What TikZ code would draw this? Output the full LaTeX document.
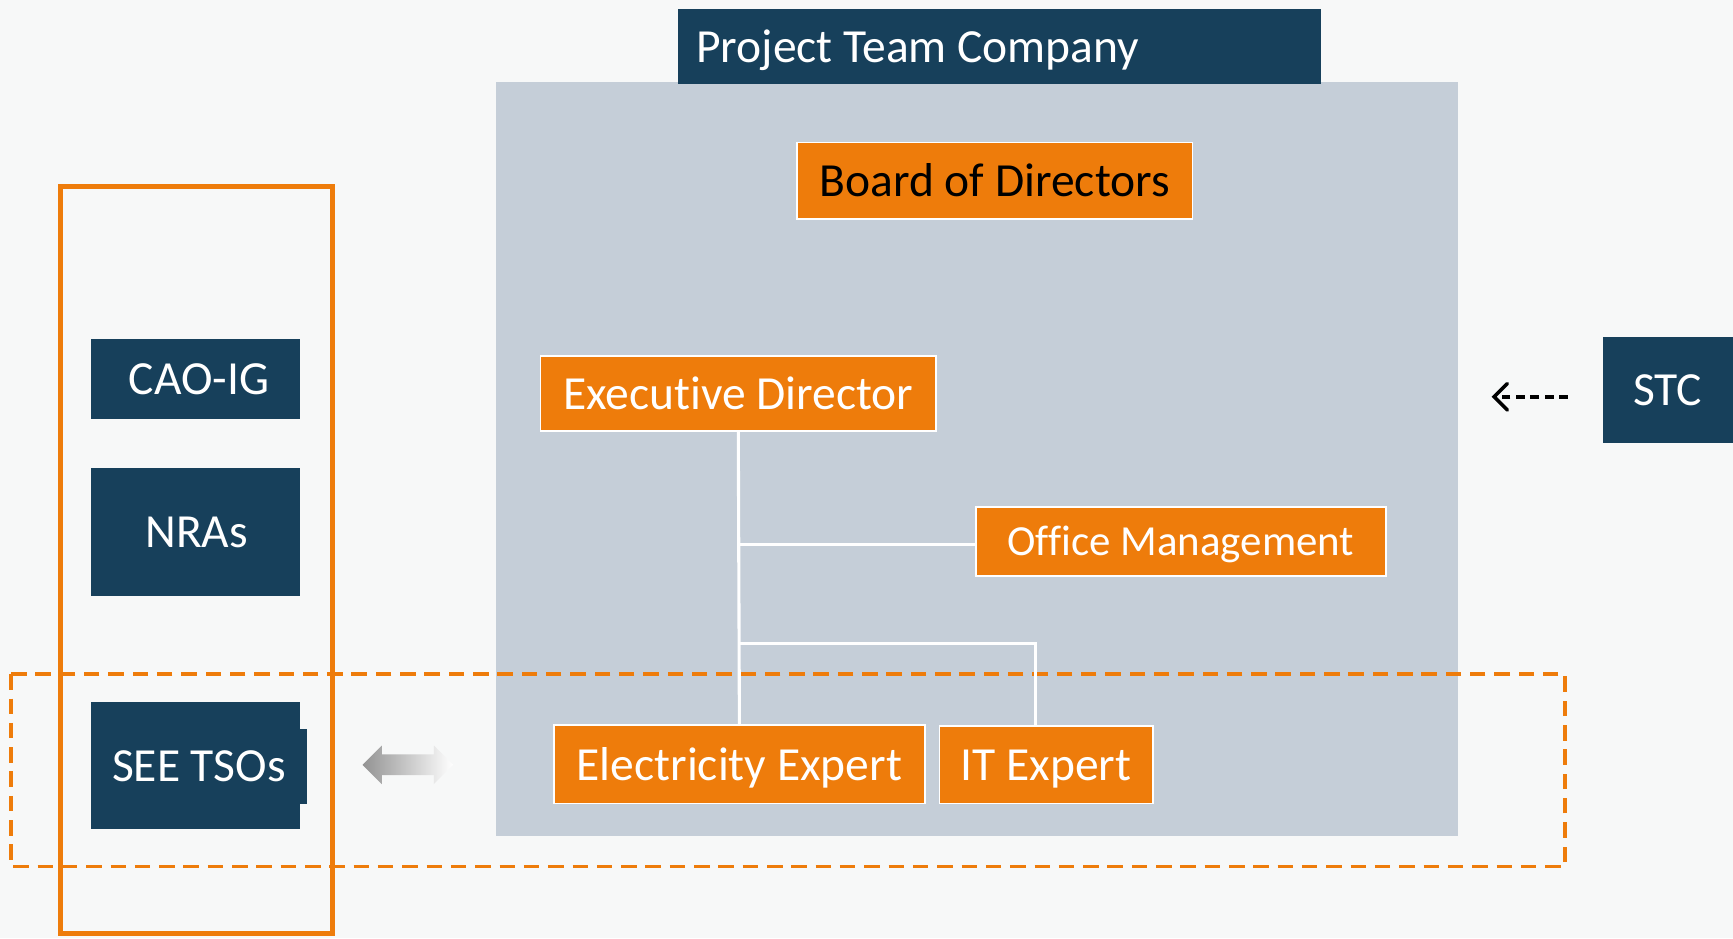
\documentclass[tikz,border=0pt]{standalone}
\usepackage{fontspec}
\setmainfont{Carlito}[Ligatures=NoCommon]
\usetikzlibrary{shapes.arrows,arrows.meta}
\definecolor{navy}{HTML}{17405B}
\definecolor{orng}{HTML}{EE7C0B}
\definecolor{panel}{HTML}{C5CED8}
\definecolor{bg}{HTML}{F7F8F8}
\begin{document}
\begin{tikzpicture}[x=0.5pt,y=-0.5pt,
  lbl/.style={font=\fontsize{21.5}{24}\selectfont, inner sep=0pt, text height=20.3pt, text depth=6pt},
  navybox/.style={lbl, fill=navy, text=white},
  orbox/.style={lbl, fill=orng, text=white, draw=white, line width=0.75pt},
  conn/.style={draw=white, line width=1.4pt},
  dashbox/.style={draw=orng, line width=1.6pt, dash pattern=on 7pt off 4pt},
  solidbox/.style={draw=orng, line width=2.2pt},
  stcarrow/.style={draw=black, line width=1.6pt, dash pattern=on 4pt off 2.5pt, -{Straight Barb[length=6pt,width=12pt,line cap=round]}},
]
\fill[bg] (0,0) rectangle (1568,849);
\useasboundingbox (0,0) rectangle (1568,849);
% panel
\fill[panel] (449,74) rectangle (1319,756);
% dashed group
\draw[dashbox] (10,610) rectangle (1416,784);
% left group
\draw[solidbox] (55,169) rectangle (301,845);

% header
\node[navybox, minimum width=291pt, minimum height=34pt] (ptc) at (904,42) {\makebox[274pt][l]{Project Team Company}};

% org nodes
\node[orbox, text=black, minimum width=179pt, minimum height=34.5pt] (bod) at (900,163.5) {Board of Directors};
\node[orbox, minimum width=179pt, minimum height=34pt] (ed) at (668,356) {Executive Director};
\node[orbox, font=\fontsize{19.4}{22}\selectfont, text height=18.3pt, text depth=5.4pt, minimum width=185.5pt, minimum height=31pt] (om) at (1068.5,490) {Office Management};
\node[orbox, minimum width=168pt, minimum height=35.5pt] (ee) at (669,691.5) {Electricity Expert};
\node[orbox, minimum width=96.5pt, minimum height=35pt] (it) at (946.5,692) {IT Expert};

% connectors
\coordinate (itj) at (937,582);
\draw[conn] (ed.south) -- (ee.north);
\draw[conn] ([yshift=-1.5pt]om.west) -- ([yshift=-1.5pt]om.west -| ed.south);
\draw[conn] (ed.south |- itj) -- (itj) -- (itj |- it.north);

% left boxes
\node[navybox, minimum width=94.5pt, minimum height=36pt] (cao) at (176.5,343) {\hspace{3.5pt}CAO-IG};
\node[navybox, minimum width=94.5pt, minimum height=58pt] (nra) at (176.5,481) {\hspace{1.5pt}NRAs};
\fill[navy] (271,660) rectangle (278,727);
\node[navybox, minimum width=94.5pt, minimum height=57.5pt] (see) at (176.5,692.5) {\hspace{3.5pt}SEE TSOs};

% double arrow
\node[double arrow, left color=gray!85, right color=white, draw=none,
      minimum height=41pt, minimum width=17pt, inner xsep=0pt, inner ysep=4.5pt,
      double arrow head extend=4pt] (da) at (369,692) {};

% STC
\node[navybox, minimum width=59pt, minimum height=48pt] (stc) at (1509,353) {STC};
\draw[stcarrow] ([xshift=-15.5pt,yshift=-3pt]stc.west) -- ([xshift=-50pt,yshift=-3pt]stc.west);
\end{tikzpicture}
\end{document}
